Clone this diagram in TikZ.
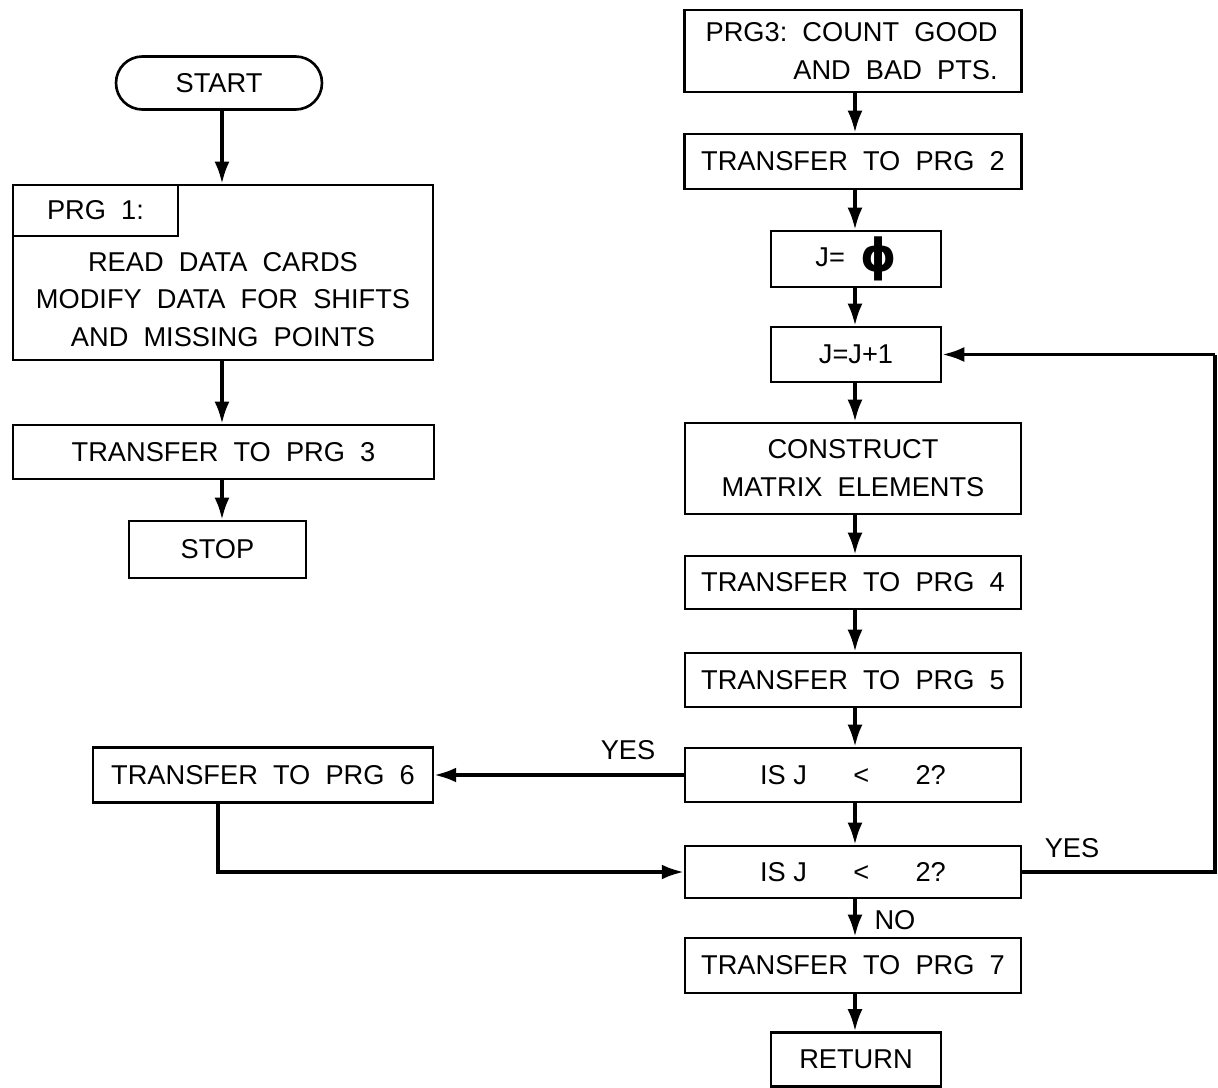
\documentclass[tikz,border=0pt]{standalone}
\usepackage{fontspec}
\setmainfont{Liberation Sans}
\newfontfamily\dvfont{DejaVu Sans}
\usetikzlibrary{arrows.meta}
\begin{document}
\begin{tikzpicture}[x=0.02cm,y=-0.02cm,
  box/.style={draw,line width=1.5pt,inner sep=0pt,font=\fontsize{15.5}{20}\selectfont},
  lbl/.style={font=\fontsize{15.5}{20}\selectfont,inner sep=0pt},
  arr/.style={line width=1.9pt,-{Latex[length=12.5pt,width=8.5pt]}},
  ln/.style={line width=1.9pt}]
\useasboundingbox[fill=white] (0,0) rectangle (1218,1088);
% left column
\node[box,rounded corners=15pt,minimum width=4.12cm,minimum height=1.06cm] (start) at (219,83) {START};
\node[box,minimum width=8.4cm,minimum height=3.5cm] (p1) at (223,272.5) {};
\node[box,minimum width=3.3cm,minimum height=1.02cm] (p1h) at (95.5,210.5) {PRG\ \ 1:};
\node[lbl,align=center] (p1t) at (223,299.5) {READ\ \ DATA\ \ CARDS\\[1.5pt]MODIFY\ \ DATA\ \ FOR\ \ SHIFTS\\[1.5pt]AND\ \ MISSING\ \ POINTS};
\node[box,minimum width=8.42cm,minimum height=1.08cm] (t3) at (223.5,452) {TRANSFER\ \ TO\ \ PRG\ \ 3};
\node[box,minimum width=3.54cm,minimum height=1.14cm] (stop) at (217.5,549.5) {STOP};
\node[box,minimum width=6.8cm,minimum height=1.1cm] (t6) at (263,775) {TRANSFER\ \ TO\ \ PRG\ \ 6};
% right column
\node[box,minimum width=6.74cm,minimum height=1.64cm] (p3) at (853,51) {};
\node[lbl,align=right,anchor=east] (p3t) at (998,51) {PRG3:\ \ COUNT\ \ GOOD\\[1.5pt]AND\ \ BAD\ \ PTS.};
\node[box,minimum width=6.74cm,minimum height=1.1cm] (t2) at (853,161.5) {TRANSFER\ \ TO\ \ PRG\ \ 2};
\node[box,minimum width=3.4cm,minimum height=1.12cm] (j0) at (856,259) {J=\ \ \raisebox{-3pt}{\fontsize{26}{26}\selectfont\dvfont\bfseries ϕ}};
\node[box,minimum width=3.4cm,minimum height=1.1cm] (j1) at (856,354.5) {J=J+1};
\node[box,minimum width=6.72cm,minimum height=1.82cm,align=center] (cm) at (853,468.5) {CONSTRUCT\\[1.5pt]MATRIX\ \ ELEMENTS};
\node[box,minimum width=6.72cm,minimum height=1.06cm] (t4) at (853,582.5) {TRANSFER\ \ TO\ \ PRG\ \ 4};
\node[box,minimum width=6.72cm,minimum height=1.08cm] (t5) at (853,680) {TRANSFER\ \ TO\ \ PRG\ \ 5};
\node[box,minimum width=6.72cm,minimum height=1.08cm] (q1) at (853,775) {IS\ J\hspace{1.7em}<\hspace{1.7em}2?};
\node[box,minimum width=6.72cm,minimum height=1.04cm] (q2) at (853,872) {IS\ J\hspace{1.7em}<\hspace{1.7em}2?};
\node[box,minimum width=6.72cm,minimum height=1.1cm] (t7) at (853,965.5) {TRANSFER\ \ TO\ \ PRG\ \ 7};
\node[box,minimum width=3.4cm,minimum height=1.08cm] (ret) at (856,1059.5) {RETURN};
% labels
\node[lbl] (yes1) at (628,750) {YES};
\node[lbl] (yes2) at (1072,848) {YES};
\node[lbl] (no) at (895,920) {NO};
% coordinates
\coordinate (c6) at (218,872);
\coordinate (cr1) at (1215,872);
\coordinate (cr2) at (1215,354.5);
% arrows left
\draw[arr] (start.south -| 222,0) -- (p1.north -| 222,0);
\draw[arr] (p1.south -| 222,0) -- (t3.north -| 222,0);
\draw[arr] (t3.south -| 222,0) -- (stop.north -| 222,0);
% arrows right
\foreach \a/\b in {p3/t2,t2/j0,j0/j1,j1/cm,cm/t4,t4/t5,t5/q1,q1/q2,q2/t7,t7/ret}
  \draw[arr] (\a.south -| 855,0) -- (\b.north -| 855,0);
\draw[arr] (q1.west) -- (q1.west -| t6.east);
\draw[arr] (t6.south -| c6) -- (c6) -- (q2.west);
\draw[ln] (q2.east) -- (cr1) -- (cr2);
\draw[arr] (cr2) -- (j1.east);
\end{tikzpicture}
\end{document}
